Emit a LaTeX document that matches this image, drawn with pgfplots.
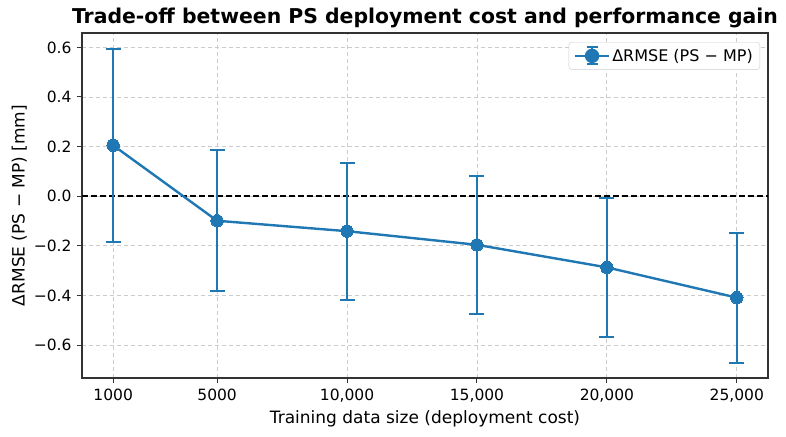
\documentclass[border=0pt]{standalone}
\usepackage{pgfplots}
\pgfplotsset{compat=1.18}
\usepackage{fontspec}
\setmainfont{DejaVu Sans}

\definecolor{mplblue}{HTML}{1F77B4}
\definecolor{spine}{HTML}{333333}
\definecolor{gridc}{HTML}{CCCCCC}

\begin{document}
\begin{tikzpicture}
\useasboundingbox (-82pt,-58pt) rectangle (704pt,378pt);
\begin{axis}[
  at={(0,0)}, anchor=south west,
  scale only axis,
  width=686pt, height=345pt,
  xmin=-200, xmax=26200,
  ymin=-0.733, ymax=0.658,
  scaled x ticks=false,
  xtick={1000,5000,10000,15000,20000,25000},
  xticklabels={1000,5000,{10,000},{15,000},{20,000},{25,000}},
  ytick={-0.6,-0.4,-0.2,0,0.2,0.4,0.6},
  yticklabels={−0.6,−0.4,−0.2,0.0,0.2,0.4,0.6},
  tick align=outside,
  tick pos=left,
  major tick length=5pt,
  tick style={spine, line width=1pt},
  axis line style={spine, line width=1.2pt},
  grid=major,
  major grid style={gridc, line width=0.9pt, dash pattern=on 4pt off 3pt},
  ticklabel style={font=\fontsize{15.5}{18}\selectfont},
  xticklabel style={yshift=-2pt},
  yticklabel style={xshift=-2pt},
  xlabel={Training data size (deployment cost)},
  ylabel={ΔRMSE (PS − MP) [mm]},
  label style={font=\fontsize{17}{20}\selectfont},
  xlabel style={yshift=-2pt},
  title={Trade-off between PS deployment cost and performance gain},
  title style={font=\bfseries\fontsize{20.4}{24}\selectfont, yshift=-4pt},
  legend style={
    at={(1,1)}, anchor=north east, xshift=-8pt, yshift=-9pt,
    draw=gridc, rounded corners=3pt, fill=white,
    font=\fontsize{16}{19}\selectfont,
    inner xsep=5pt, inner ysep=4pt,
  },
  legend cell align=left,
]
% reference line at zero
\addplot[black, line width=1.5pt, dash pattern=on 6pt off 3pt, forget plot]
  coordinates {(-200,0) (26200,0)};

% mean difference with error bars
\addplot[
  mplblue, line width=2.4pt,
  mark=*, mark size=6.2pt, mark options={solid, fill=mplblue, draw=mplblue, line width=0pt},
  legend image code/.code={
    \draw[mplblue, line width=2.4pt] (0pt,0pt) -- (34pt,0pt);
    \draw[mplblue, line width=2.4pt] (17pt,-8.5pt) -- (17pt,8.5pt);
    \draw[mplblue, line width=2pt] (11.5pt,-8.5pt) -- (22.5pt,-8.5pt)
                                   (11.5pt,8.5pt) -- (22.5pt,8.5pt);
    \fill[mplblue] (17pt,0pt) circle (6pt);
  },
  error bars/.cd,
    y dir=both, y explicit,
    error bar style={mplblue, line width=2.4pt},
    error mark=|,
    error mark options={mplblue, line width=2pt, mark size=7.5pt},
  ]
coordinates {
  (1000,0.205)  +- (0,0.388)
  (5000,-0.099) +- (0,0.285)
  (10000,-0.141) +- (0,0.276)
  (15000,-0.196) +- (0,0.279)
  (20000,-0.287) +- (0,0.280)
  (25000,-0.409) +- (0,0.262)
};
\addlegendentry{ΔRMSE (PS − MP)}
\end{axis}
\end{tikzpicture}
\end{document}
